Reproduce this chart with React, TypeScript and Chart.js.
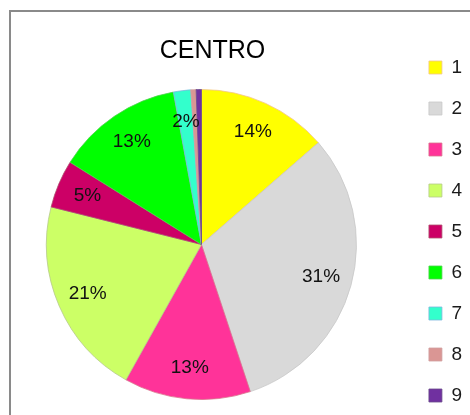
import React, { useEffect, useRef } from 'react';
import { Chart, registerables } from 'chart.js';

Chart.register(...registerables);

const TITLE = 'CENTRO';
const CATEGORIES = ['1', '2', '3', '4', '5', '6', '7', '8', '9'];
const VALUES = [13.6, 31.3, 13.2, 20.8, 5.0, 13.2, 1.8, 0.55, 0.55];
const COLORS = ['#FFFF00', '#D9D9D9', '#FF3399', '#CCFF66', '#CC0066', '#00FF00', '#33FFCC', '#DA9694', '#7030A0'];
const EDGES = ['#F2C48C', '#C8C8C8', '#D9738C', '#B5C98A', '#B0506E', '#4FD24F', '#7FB6E0', '#D0A0A0', '#6A4A8A'];

const FONT = 'Liberation Sans, Arial, sans-serif';
const TITLE_SHIFT = 11;

const shiftTitle = {
  id: 'shiftTitle',
  afterLayout(chart: any) {
    const t = chart.titleBlock;
    if (t) {
      t.left += TITLE_SHIFT;
      t.right += TITLE_SHIFT;
    }
  },
};

const pctLabels = {
  id: 'pctLabels',
  afterDatasetsDraw(chart: any) {
    const meta = chart.getDatasetMeta(0);
    const ctx = chart.ctx;
    const total = VALUES.reduce((a, b) => a + b, 0);
    ctx.save();
    ctx.font = `19px ${FONT}`;
    ctx.fillStyle = '#111';
    ctx.textAlign = 'center';
    ctx.textBaseline = 'middle';
    meta.data.forEach((arc: any, i: number) => {
      const pct = (VALUES[i] / total) * 100;
      if (pct < 1) return;
      const p = arc.getProps(['startAngle', 'endAngle', 'outerRadius', 'x', 'y'], true);
      const mid = (p.startAngle + p.endAngle) / 2;
      const r = p.outerRadius * 0.8;
      ctx.fillText(Math.round(pct) + '%', p.x + Math.cos(mid) * r, p.y + Math.sin(mid) * r);
    });
    ctx.restore();
  },
};

export default function App() {
  const ref = useRef<HTMLCanvasElement | null>(null);

  useEffect(() => {
    if (!ref.current) return;
    const chart = new Chart(ref.current, {
      type: 'pie',
      data: {
        labels: CATEGORIES,
        datasets: [
          {
            data: VALUES,
            backgroundColor: COLORS,
            borderColor: EDGES,
            borderWidth: 0.8,
          },
        ],
      },
      options: {
        responsive: false,
        animation: false,
        events: [],
        radius: 155,
        layout: { padding: { top: 36, left: 0, right: 0, bottom: 0 } },
        plugins: {
          title: {
            display: true,
            text: TITLE,
            fullSize: false,
            color: '#000',
            padding: { top: 0, bottom: 0 },
            font: { family: FONT, size: 25, weight: 'normal' },
          },
          subtitle: {
            display: true,
            text: ' ',
            position: 'bottom',
            fullSize: false,
            padding: 0,
            font: { family: FONT, size: 17, lineHeight: 1 },
          },
          legend: {
            display: true,
            position: 'right',
            align: 'start',
            labels: {
              boxWidth: 13,
              boxHeight: 13,
              padding: 22,
              color: '#1a1a1a',
              font: { family: FONT, size: 19 },
            },
          },
          tooltip: { enabled: false },
        },
      } as any,
      plugins: [shiftTitle, pctLabels],
    });
    return () => chart.destroy();
  }, []);

  return (
    <div
      style={{
        position: 'fixed',
        left: 0,
        top: 0,
        width: 470,
        height: 415,
        overflow: 'hidden',
        background: '#fff',
      }}
    >
      <div
        style={{
          position: 'absolute',
          left: 9,
          top: 10,
          width: 700,
          height: 700,
          border: '2px solid #8a8a8a',
          boxSizing: 'border-box',
        }}
      />
      <canvas
        ref={ref}
        width={476}
        height={440}
        style={{ position: 'absolute', left: -4, top: 0, width: 476, height: 440 }}
      />
    </div>
  );
}
